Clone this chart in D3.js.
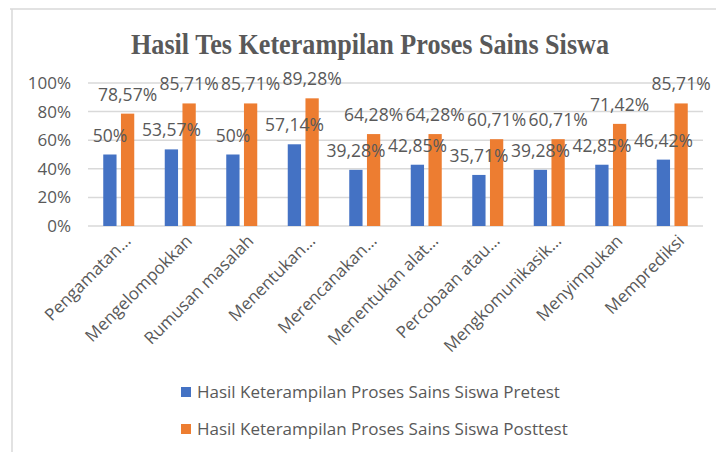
<!DOCTYPE html>
<html>
<head>
<meta charset="utf-8">
<script src="https://cdn.jsdelivr.net/npm/d3@7"></script>
<style>
  body { margin: 0; background: #fff; }
  text { font-family: "Open Sans", sans-serif; fill: #595959; }
</style>
</head>
<body>
<svg width="716" height="452"></svg>
<script>
var categories = ['Pengamatan…', 'Mengelompokkan', 'Rumusan masalah', 'Menentukan…',
    'Merencanakan…', 'Menentukan alat…', 'Percobaan atau…', 'Mengkomunikasik…',
    'Menyimpukan', 'Memprediksi'];
var pretest = [50, 53.57, 50, 57.14, 39.28, 42.85, 35.71, 39.28, 42.85, 46.42];
var posttest = [78.57, 85.71, 85.71, 89.28, 64.28, 64.28, 60.71, 60.71, 71.42, 85.71];
var seriesNames = ['Hasil Keterampilan Proses Sains Siswa Pretest',
    'Hasil Keterampilan Proses Sains Siswa Posttest'];
var yTicks = [0, 20, 40, 60, 80, 100];

var colors = ['#4472C4', '#ED7D31'];
var svg = d3.select('svg');

// frame
svg.append('line').attr('x1', 10).attr('x2', 716).attr('y1', 9).attr('y2', 9)
    .style('stroke', '#d9d9d9').style('stroke-width', 1.5);
svg.append('line').attr('x1', 12).attr('x2', 12).attr('y1', 9).attr('y2', 452)
    .style('stroke', '#d9d9d9').style('stroke-width', 1.5);

svg.append('text')
    .attr('x', 370)
    .attr('y', 54)
    .attr('text-anchor', 'middle')
    .attr('textLength', 478)
    .attr('lengthAdjust', 'spacingAndGlyphs')
    .style('font-family', '"Liberation Serif", serif')
    .style('font-weight', 'bold')
    .style('font-size', '29px')
    .text('Hasil Tes Keterampilan Proses Sains Siswa');

var x = d3.scaleBand().domain(categories).range([88, 703]);
var x1 = d3.scaleBand().domain([0, 1]).range([-15.5, 15.5]).paddingInner(0.25);
var y = d3.scaleLinear().domain([0, 100]).range([226, 83]);

// gridlines
svg.selectAll('.grid').data(yTicks).enter().append('line')
    .attr('class', 'grid')
    .attr('x1', 88).attr('x2', 703)
    .attr('y1', function(d){ return y(d); })
    .attr('y2', function(d){ return y(d); })
    .style('stroke', '#d9d9d9')
    .style('stroke-width', 1.5);

svg.selectAll('.ytick').data(yTicks).enter().append('text')
    .attr('class', 'ytick')
    .attr('x', 71)
    .attr('y', function(d){ return y(d) + 6; })
    .attr('text-anchor', 'end')
    .style('font-size', '17px')
    .text(function(d){ return d + '%'; });

var series = [pretest, posttest];
series.forEach(function(vals, s) {
    svg.selectAll('.bar' + s).data(vals).enter().append('rect')
        .attr('class', 'bar' + s)
        .attr('x', function(d, i){ return x(categories[i]) + x.bandwidth() / 2 + x1(s); })
        .attr('y', function(d){ return y(d); })
        .attr('width', x1.bandwidth())
        .attr('height', function(d){ return y(0) - y(d); })
        .style('fill', colors[s]);
});
series.forEach(function(vals, s) {
    svg.selectAll('.lab' + s).data(vals).enter().append('text')
        .attr('class', 'lab' + s)
        .attr('x', function(d, i){ return x(categories[i]) + x.bandwidth() / 2 + x1(s) + x1.bandwidth() / 2; })
        .attr('y', function(d){ return y(d) - 13; })
        .attr('text-anchor', 'middle')
        .style('font-size', '17.5px')
        .text(function(d){ return String(d).replace('.', ',') + '%'; });
});

svg.selectAll('.cat').data(categories).enter().append('text')
    .attr('class', 'cat')
    .attr('text-anchor', 'end')
    .attr('transform', function(d){
        return 'translate(' + (x(d) + x.bandwidth() / 2 + 13) + ',242) rotate(-45)';
    })
    .style('font-size', '17px')
    .text(function(d){ return d; });

// legend
seriesNames.forEach(function(name, s) {
    var ly = 392 + s * 37;
    svg.append('rect').attr('x', 181).attr('y', ly - 5).attr('width', 10).attr('height', 10)
        .style('fill', colors[s]);
    svg.append('text').attr('x', 197).attr('y', ly + 6)
        .style('font-size', '17px')
        .text(name);
});
</script>
</body>
</html>
